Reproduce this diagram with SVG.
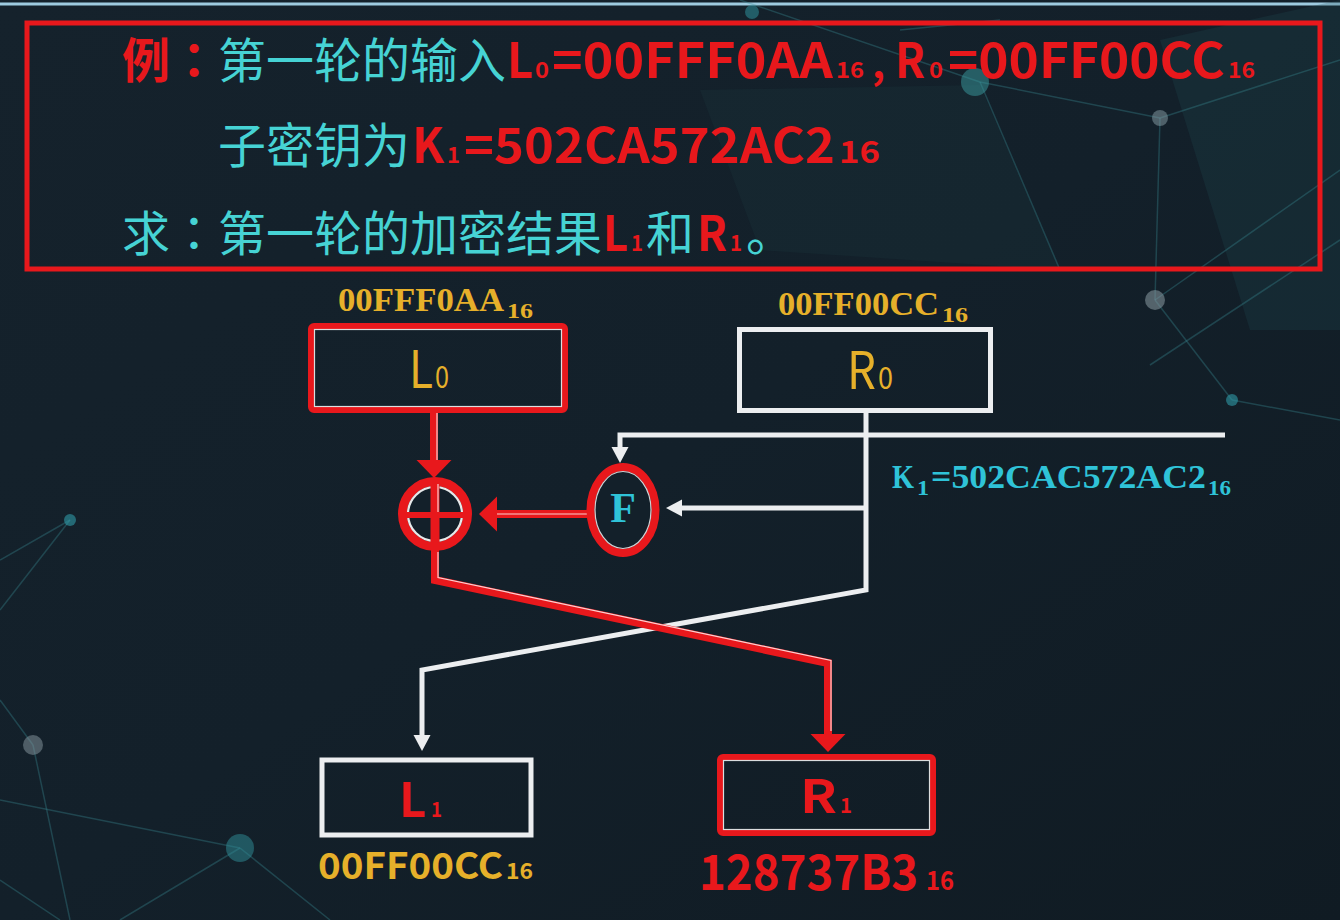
<svg xmlns="http://www.w3.org/2000/svg" width="1340" height="920" viewBox="0 0 1340 920">
  <defs>
    <linearGradient id="bg" x1="0" y1="0" x2="1" y2="1">
      <stop offset="0" stop-color="#15222c"/>
      <stop offset="0.5" stop-color="#13202a"/>
      <stop offset="1" stop-color="#101b23"/>
    </linearGradient>
    <marker id="aw" markerUnits="userSpaceOnUse" markerWidth="18" markerHeight="18" refX="0" refY="8.5" orient="auto" overflow="visible">
      <path d="M0,0 L16,8.5 L0,17 Z" fill="#eceef0"/>
    </marker>
    <marker id="ar" markerUnits="userSpaceOnUse" markerWidth="20" markerHeight="36" refX="0" refY="17.5" orient="auto" overflow="visible">
      <path d="M0,0 L18,17.5 L0,35 Z" fill="#e8181c"/>
    </marker>
  </defs>
  <style>
    .cjk { font-family: "Noto Sans CJK SC", "Noto Sans", sans-serif; }
    .tc { font-family: "Noto Sans CJK TC", "Noto Sans CJK SC", sans-serif; }
    .ser { font-family: "Liberation Serif", "Times New Roman", serif; font-weight: bold; }
    .red { fill: #e8181c; }
    .cy { fill: #46d3d4; }
    .gold { fill: #e6b02a; }
    .kc { fill: #2fc3d8; }
    .b { font-weight: bold; }
    .wire { fill: none; stroke: #eceef0; stroke-width: 5; stroke-linejoin: miter; }
    .wire-red { fill: none; stroke: #e8181c; stroke-width: 8; stroke-linejoin: miter; }
    .hl { fill: none; stroke: #ffffff; stroke-width: 1.2; opacity: 0.8; }
    .box-w { fill: none; stroke: #eceef0; stroke-width: 5; }
    .box-r { fill: none; stroke: #e8181c; stroke-width: 6; }
    .deco { stroke: #3a8c94; stroke-width: 1.5; opacity: 0.35; fill: none; }
  </style>

  <rect x="0" y="0" width="1340" height="920" fill="url(#bg)"/>

  <g id="background">
    <line x1="0" y1="4" x2="1340" y2="4" stroke="#9ecbe0" stroke-width="3"/>
    <polygon points="1160,40 1340,0 1340,330 1250,330" fill="#1f4b52" opacity="0.25"/>
    <polygon points="700,90 980,85 1060,270 760,250" fill="#1d3f47" opacity="0.2"/>
    <line class="deco" x1="740" y1="0" x2="980" y2="82"/>
    <line class="deco" x1="980" y1="82" x2="1160" y2="118"/>
    <line class="deco" x1="1160" y1="118" x2="1340" y2="60"/>
    <line class="deco" x1="980" y1="82" x2="1060" y2="270"/>
    <line class="deco" x1="1160" y1="118" x2="1155" y2="300"/>
    <line class="deco" x1="1155" y1="300" x2="1340" y2="170"/>
    <line class="deco" x1="1155" y1="300" x2="1232" y2="400"/>
    <line class="deco" x1="1232" y1="400" x2="1340" y2="420"/>
    <line class="deco" x1="1150" y1="365" x2="1340" y2="240"/>
    <line class="deco" x1="900" y1="30" x2="1000" y2="20"/>
    <line class="deco" x1="0" y1="560" x2="70" y2="520"/>
    <line class="deco" x1="70" y1="520" x2="0" y2="610"/>
    <line class="deco" x1="33" y1="745" x2="0" y2="700"/>
    <line class="deco" x1="33" y1="745" x2="70" y2="920"/>
    <line class="deco" x1="240" y1="848" x2="120" y2="920"/>
    <line class="deco" x1="240" y1="848" x2="330" y2="920"/>
    <line class="deco" x1="240" y1="848" x2="0" y2="800"/>
    <line class="deco" x1="0" y1="880" x2="60" y2="920"/>
    <circle cx="975" cy="82" r="14" fill="#3a9ca0" opacity="0.5"/>
    <circle cx="1160" cy="118" r="8" fill="#8aa0a8" opacity="0.5"/>
    <circle cx="1155" cy="300" r="10" fill="#8a9aa2" opacity="0.55"/>
    <circle cx="1232" cy="400" r="6" fill="#2f9aa6" opacity="0.6"/>
    <circle cx="70" cy="520" r="6" fill="#2f9aa6" opacity="0.6"/>
    <circle cx="33" cy="745" r="10" fill="#8a9aa2" opacity="0.5"/>
    <circle cx="240" cy="848" r="14" fill="#2f8f9a" opacity="0.5"/>
    <circle cx="752" cy="12" r="7" fill="#2f9aa6" opacity="0.5"/>
  </g>

  <g id="problem">
    <rect x="27" y="23" width="1293" height="246" fill="none" stroke="#e8181c" stroke-width="5"/>
    <g class="cjk">
      <text x="122" y="78" font-size="48" class="red b">例</text>
      <text x="170" y="78" font-size="48" class="tc red b">：</text>
      <text x="218" y="78" font-size="48" class="cy">第一轮的输入</text>
      <text x="507" y="78" font-size="48" class="red b" textLength="26" lengthAdjust="spacingAndGlyphs">L</text>
      <text x="535" y="78" font-size="22" class="red b" textLength="14" lengthAdjust="spacingAndGlyphs">0</text>
      <text x="552" y="78" font-size="48" class="red b" textLength="281" lengthAdjust="spacingAndGlyphs">=00FFF0AA</text>
      <text x="836" y="78" font-size="22" class="red b" textLength="28" lengthAdjust="spacingAndGlyphs">16</text>
      <text x="872" y="78" font-size="40" class="red b">,</text>
      <text x="895" y="78" font-size="48" class="red b" textLength="30" lengthAdjust="spacingAndGlyphs">R</text>
      <text x="929" y="78" font-size="22" class="red b" textLength="14" lengthAdjust="spacingAndGlyphs">0</text>
      <text x="948" y="78" font-size="48" class="red b" textLength="277" lengthAdjust="spacingAndGlyphs">=00FF00CC</text>
      <text x="1228" y="78" font-size="22" class="red b" textLength="27" lengthAdjust="spacingAndGlyphs">16</text>

      <text x="218" y="163" font-size="48" class="cy">子密钥为</text>
      <text x="412" y="163" font-size="48" class="red b" textLength="32" lengthAdjust="spacingAndGlyphs">K</text>
      <text x="447" y="163" font-size="22" class="red b" textLength="13" lengthAdjust="spacingAndGlyphs">1</text>
      <text x="464" y="163" font-size="48" class="red b" textLength="371" lengthAdjust="spacingAndGlyphs">=502CA572AC2</text>
      <text x="839" y="163" font-size="30" class="red b" textLength="41" lengthAdjust="spacingAndGlyphs">16</text>

      <text x="122" y="251" font-size="48" class="cy">求</text>
      <text x="170" y="251" font-size="48" class="tc cy">：</text>
      <text x="218" y="251" font-size="48" class="cy">第一轮的加密结果</text>
      <text x="603" y="251" font-size="48" class="red b" textLength="25" lengthAdjust="spacingAndGlyphs">L</text>
      <text x="631" y="251" font-size="22" class="red b" textLength="12" lengthAdjust="spacingAndGlyphs">1</text>
      <text x="646" y="251" font-size="48" class="cy">和</text>
      <text x="697" y="251" font-size="48" class="red b" textLength="30" lengthAdjust="spacingAndGlyphs">R</text>
      <text x="730" y="251" font-size="22" class="red b" textLength="12" lengthAdjust="spacingAndGlyphs">1</text>
      <text x="746" y="251" font-size="48" class="cy">。</text>
    </g>
  </g>

  <g id="connectors">
    <path class="wire" d="M1225,435 H620 V447" marker-end="url(#aw)"/>
    <path class="wire" d="M866,413 V590 L422,670 V735" marker-end="url(#aw)"/>
    <path class="wire" d="M866,508 H682" marker-end="url(#aw)"/>
    <path class="wire-red" d="M434,413 V460" marker-end="url(#ar)"/>
    <path class="hl" d="M437,413 V460"/>
    <path class="wire-red" d="M587,514 H497" marker-end="url(#ar)"/>
    <path class="hl" d="M587,514 H497"/>
    <path class="wire-red" d="M435,550 V580 L828,663 V734" marker-end="url(#ar)"/>
    <path class="hl" d="M438,552 V577.5 L831,660.5 V731"/>
  </g>

  <g id="label-L0-value">
    <text x="338" y="311" font-size="34" class="ser gold" textLength="166" lengthAdjust="spacingAndGlyphs">00FFF0AA</text>
    <text x="507" y="318" font-size="22" class="ser gold" textLength="26" lengthAdjust="spacingAndGlyphs">16</text>
  </g>
  <g id="label-R0-value">
    <text x="778" y="315" font-size="34" class="ser gold" textLength="161" lengthAdjust="spacingAndGlyphs">00FF00CC</text>
    <text x="942" y="322" font-size="22" class="ser gold" textLength="26" lengthAdjust="spacingAndGlyphs">16</text>
  </g>

  <g id="box-L0">
    <rect x="311" y="326" width="254" height="84" rx="3" class="box-r"/>
    <rect x="314.5" y="329.5" width="247" height="77" fill="none" stroke="#ffffff" stroke-width="1.2" opacity="0.85"/>
    <text x="409" y="388" font-size="52" class="cjk gold" textLength="24" lengthAdjust="spacingAndGlyphs">L</text>
    <text x="435" y="388" font-size="30" class="cjk gold" textLength="14" lengthAdjust="spacingAndGlyphs">0</text>
  </g>

  <g id="box-R0">
    <rect x="739.5" y="329.5" width="251" height="81" class="box-w"/>
    <text x="847" y="389" font-size="52" class="cjk gold" textLength="29" lengthAdjust="spacingAndGlyphs">R</text>
    <text x="878" y="389" font-size="30" class="cjk gold" textLength="15" lengthAdjust="spacingAndGlyphs">0</text>
  </g>

  <g id="label-K1">
    <text x="892" y="488" font-size="34" class="ser kc" textLength="22" lengthAdjust="spacingAndGlyphs">K</text>
    <text x="917" y="495" font-size="22" class="ser kc" textLength="12" lengthAdjust="spacingAndGlyphs">1</text>
    <text x="931" y="488" font-size="34" class="ser kc" textLength="275" lengthAdjust="spacingAndGlyphs">=502CAC572AC2</text>
    <text x="1208" y="495" font-size="22" class="ser kc" textLength="23" lengthAdjust="spacingAndGlyphs">16</text>
  </g>

  <g id="node-F">
    <ellipse cx="623" cy="510" rx="32.5" ry="43" fill="#13202a" stroke="#e8181c" stroke-width="8"/>
    <ellipse cx="623" cy="510" rx="28" ry="38.5" fill="none" stroke="#ffffff" stroke-width="1.2" opacity="0.8"/>
    <text x="623" y="522" font-size="42" class="ser kc" text-anchor="middle">F</text>
  </g>

  <g id="node-XOR">
    <circle cx="435" cy="514" r="32.5" fill="#13202a" stroke="#e8181c" stroke-width="9"/>
    <circle cx="435" cy="514" r="27" fill="none" stroke="#ffffff" stroke-width="2.2" opacity="0.9"/>
    <line x1="435" y1="482" x2="435" y2="546" stroke="#e8181c" stroke-width="9"/>
    <line x1="404" y1="515" x2="466" y2="515" stroke="#e8181c" stroke-width="6"/>
    <line x1="438" y1="484" x2="438" y2="512" stroke="#ffffff" stroke-width="1.2" opacity="0.8"/>
  </g>

  <g id="box-L1">
    <rect x="322" y="760" width="209" height="75" class="box-w" stroke-width="5.5"/>
    <text x="399" y="817" font-size="47" class="cjk red b" textLength="27" lengthAdjust="spacingAndGlyphs">L</text>
    <text x="431" y="817" font-size="21" class="cjk red b" textLength="11" lengthAdjust="spacingAndGlyphs">1</text>
  </g>
  <g id="label-L1-value">
    <text x="318" y="879" font-size="36" class="cjk gold b" textLength="185" lengthAdjust="spacingAndGlyphs">00FF00CC</text>
    <text x="506" y="879" font-size="22" class="cjk gold b" textLength="27" lengthAdjust="spacingAndGlyphs">16</text>
  </g>

  <g id="box-R1">
    <rect x="720" y="757" width="213" height="76" rx="3" class="box-r"/>
    <rect x="723.5" y="760.5" width="206" height="69" fill="none" stroke="#ffffff" stroke-width="1.2" opacity="0.85"/>
    <text x="800" y="813" font-size="46" class="cjk red b" textLength="37" lengthAdjust="spacingAndGlyphs">R</text>
    <text x="840" y="813" font-size="21" class="cjk red b" textLength="12" lengthAdjust="spacingAndGlyphs">1</text>
  </g>
  <g id="label-R1-value">
    <text x="699" y="890" font-size="48" class="cjk red b" textLength="219" lengthAdjust="spacingAndGlyphs">128737B3</text>
    <text x="926" y="890" font-size="26" class="cjk red b" textLength="28" lengthAdjust="spacingAndGlyphs">16</text>
  </g>
</svg>
